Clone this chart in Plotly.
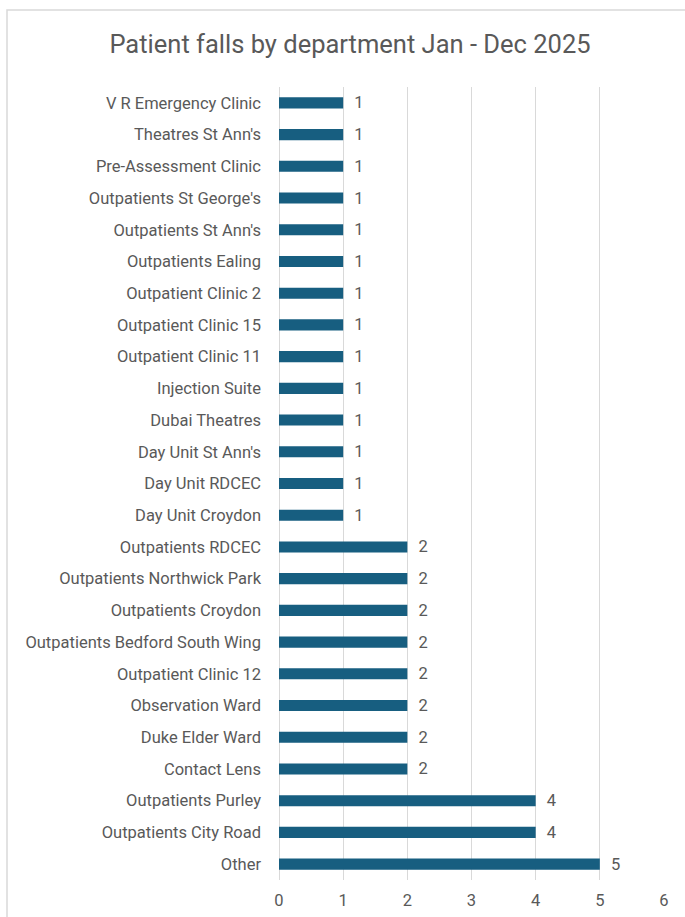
import plotly.graph_objects as go

departments = [
    "V R Emergency Clinic", "Theatres St Ann's", "Pre-Assessment Clinic",
    "Outpatients St George's", "Outpatients St Ann's", "Outpatients Ealing",
    "Outpatient Clinic 2", "Outpatient Clinic 15", "Outpatient Clinic 11",
    "Injection Suite", "Dubai Theatres", "Day Unit St Ann's", "Day Unit RDCEC",
    "Day Unit Croydon", "Outpatients RDCEC", "Outpatients Northwick Park",
    "Outpatients Croydon", "Outpatients Bedford South Wing", "Outpatient Clinic 12",
    "Observation Ward", "Duke Elder Ward", "Contact Lens", "Outpatients Purley",
    "Outpatients City Road", "Other",
]
falls = [1, 1, 1, 1, 1, 1, 1, 1, 1, 1, 1, 1, 1, 1, 2, 2, 2, 2, 2, 2, 2, 2, 4, 4, 5]
x_ticks = [0, 1, 2, 3, 4, 5, 6]

FONT = "Roboto, Arial, sans-serif"
GREY = "#595959"

fig = go.Figure(go.Bar(
    x=falls, y=departments, orientation="h",
    marker=dict(color="#175e80", line=dict(width=0)),
    text=["  " + str(v) for v in falls], textposition="outside",
    constraintext="none",
    textfont=dict(color=GREY, size=16.5, family=FONT),
    cliponaxis=False, width=0.35,
))

fig.update_layout(
    width=685, height=917,
    margin=dict(l=279, r=21, t=87, b=37),
    paper_bgcolor="white", plot_bgcolor="white",
    title=dict(text="Patient falls by department Jan - Dec 2025",
               x=(350 - 279) / 385, xanchor="center", xref="paper",
               y=1 - 44/917, yanchor="middle",
               font=dict(family=FONT, size=25.5, color=GREY)),
    font=dict(family=FONT, color=GREY),
    showlegend=False,
    xaxis=dict(range=[0, 6], tickvals=x_ticks, showgrid=True, gridcolor="#d9d9d9",
               gridwidth=1, zeroline=True, zerolinecolor="#d9d9d9", zerolinewidth=1,
               showline=False, ticks="", ticklabelstandoff=8, automargin=False,
               tickfont=dict(size=16.5, color=GREY, family=FONT)),
    yaxis=dict(autorange="reversed", showgrid=False, zeroline=False, ticks="",
               ticklabelstandoff=17, automargin=False,
               tickfont=dict(size=16.5, color=GREY, family=FONT)),
    shapes=[dict(type="rect", xref="paper", yref="paper",
                 x0=(7-279)/385, x1=2, y0=-1, y1=1 + (87-10)/793,
                 line=dict(color="#d9d9d9", width=1.5), layer="below")],
)

fig.write_html("out.html")
